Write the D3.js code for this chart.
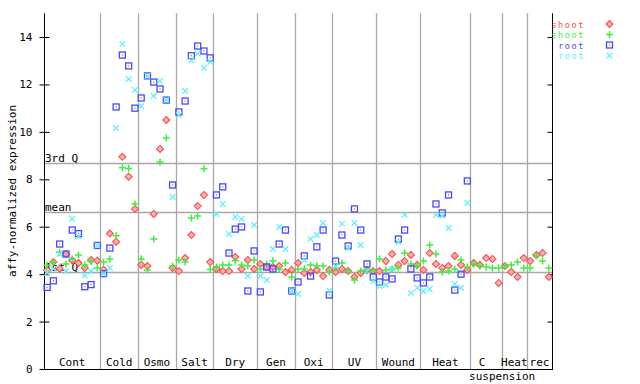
<!DOCTYPE html>
<html><head><meta charset="utf-8">
<script src="https://cdn.jsdelivr.net/npm/d3@7"></script>
<style>
body{margin:0;background:#fff;}
text{font-family:"DejaVu Sans Mono",monospace;font-size:11px;}
</style></head>
<body><svg id="c" width="640" height="384"></svg>
<script>
const groups = ["Cont","Cold","Osmo","Salt","Dry","Gen","Oxi","UV","Wound","Heat","C","Heat","rec"];
const groupSizes = [9,6,6,6,7,6,6,7,7,8,5,4,4];
const groupSub = ["","","","","","","","","","","suspension","",""];
const seriesNames = ["shoot","shoot","root","root"];
const yTicks = [0,2,4,6,8,10,12,14];
const statNames = ["3rd Q","mean","1st Q"];
const statValues = [8.69, 6.62, 4.09];

const shootA = [4.17,4.51,4.23,4.85,4.58,4.47,4.26,4.6,4.57,
 4.19,5.71,5.37,8.95,8.11,6.75,
 4.39,4.34,6.54,9.28,10.5,4.26,
 4.13,4.68,5.65,6.87,7.34,4.51,
 4.22,4.13,4.13,4.72,4.22,4.6,4.22,
 4.43,4.3,4.3,4.34,4.09,4.18,
 4.47,4.05,4.09,4.18,3.92,4.18,
 4.09,4.22,4.13,3.88,4.05,4.18,4.13,
 4.13,4.55,4.85,4.39,4.55,4.81,4.39,
 4.18,4.89,4.43,4.26,4.34,4.77,4.39,4.18,
 4.47,4.39,4.68,4.64,3.63,
 4.34,4.09,3.88,4.68,
 4.55,4.81,4.89,3.88];
const shootB = [4.37,4.5,4.92,4.43,4.64,4.81,4.39,4.53,4.26,
 4.51,4.64,5.62,8.49,8.45,6.96,
 4.64,4.18,5.48,8.73,9.74,4.34,
 4.6,4.51,6.37,6.45,8.44,4.2,
 4.3,4.39,4.39,4.56,4.39,4.34,4.6,
 4.22,4.43,4.56,4.2,4.47,3.88,
 4.22,4.22,4.39,4.34,4.34,4.09,
 4.26,4.47,4.13,3.75,4.13,4.18,4.13,
 4.64,4.18,4.22,4.26,4.89,4.43,4.34,
 4.55,5.23,4.85,4.09,4.13,4.22,4.6,4.3,
 4.43,4.34,4.3,4.26,4.26,
 4.34,4.39,4.51,4.26,
 4.26,4.77,4.55,4.26];
const rootA = [3.44,3.72,5.27,4.85,5.86,5.71,3.47,3.56,5.21,
 4.02,5.1,11.05,13.24,12.78,11.0,
 11.43,12.36,12.1,11.81,11.34,7.76,
 10.84,11.3,13.21,13.62,13.41,13.12,
 7.34,7.68,4.89,5.9,5.99,3.29,4.98,
 3.25,4.3,4.22,5.27,5.86,3.29,
 3.67,4.77,3.92,5.15,5.86,3.12,
 4.55,5.65,5.19,6.75,5.86,4.43,3.88,
 3.67,3.88,3.8,5.48,5.86,4.22,3.84,
 3.63,3.88,6.96,6.58,7.34,3.33,4.0,7.93,
 null,null,null,null,null,null,null,null,null,null,null,null,null];
const rootB = [4.05,4.23,4.85,4.12,6.34,5.6,3.94,4.12,5.21,
 4.02,4.26,10.16,13.71,12.23,11.77,
 11.09,12.36,11.51,12.15,11.34,7.25,
 10.7,11.72,13.03,13.3,12.69,12.95,
 6.54,6.96,5.69,6.41,6.33,3.92,6.07,
 3.92,3.75,5.06,5.99,5.06,3.29,
 3.16,4.6,5.48,5.65,6.16,3.29,
 4.34,6.12,5.1,6.16,5.23,4.13,3.71,
 3.5,3.54,4.22,5.35,6.5,3.2,3.42,
 3.29,3.37,6.5,6.45,5.95,3.59,3.42,7.0,
 null,null,null,null,null,null,null,null,null,null,null,null,null];

const series = [shootA, shootB, rootA, rootB];
const colors = ["#ff4c4c","#3cf03c","#4848ff","#55f0ff"];
const shapes = ["diamond","plus","square","cross"];

const svg = d3.select("#c");
const N = d3.sum(groupSizes);
const x = d3.scaleLinear().domain([0, N]).range([44, 552]);
const y = d3.scaleLinear().domain([0, 15]).range([369, 13.3]);

// group separators
const bounds = d3.cumsum(groupSizes);
svg.append("g").selectAll("line").data(Array.from(bounds).slice(0,-1)).join("line")
  .attr("x1", d=>Math.round(x(d))+0.5).attr("x2", d=>Math.round(x(d))+0.5)
  .attr("y1", y(15)).attr("y2", y(0))
  .attr("stroke","#a8a8a8").attr("stroke-width",1.3);

// stat lines
svg.append("g").selectAll("line").data(statValues).join("line")
  .attr("x1", x(0)).attr("x2", x(N))
  .attr("y1", d=>Math.round(y(d))+0.5).attr("y2", d=>Math.round(y(d))+0.5)
  .attr("stroke","#a8a8a8").attr("stroke-width",1.3);
svg.append("g").selectAll("text").data(statValues).join("text")
  .attr("x", 45).attr("y", d=>Math.round(y(d))-1.5)
  .text((d,i)=>statNames[i]).attr("fill","#000");

// axes
const gl = svg.append("g").attr("transform","translate(44.5,0)")
  .call(d3.axisLeft(y).tickValues(yTicks).tickSize(5).tickSizeOuter(0).tickPadding(7).tickFormat(d3.format("d")));
gl.select(".domain").remove();
gl.selectAll("text").style("font-family","DejaVu Sans Mono").style("font-size","11px").attr("fill","#000");
const gli = svg.append("g").attr("transform","translate(44.5,0)")
  .call(d3.axisRight(y).tickValues(yTicks).tickSize(5).tickSizeOuter(0).tickFormat(""));
gli.select(".domain").remove();
const gr = svg.append("g").attr("transform","translate(552.5,0)")
  .call(d3.axisLeft(y).tickValues(yTicks).tickSize(5).tickSizeOuter(0).tickFormat(""));
gr.select(".domain").remove();
svg.append("line").attr("x1",44.5).attr("x2",44.5).attr("y1",y(15)).attr("y2",369.5).attr("stroke","#000");
svg.append("line").attr("x1",552.5).attr("x2",552.5).attr("y1",y(15)).attr("y2",369.5).attr("stroke","#000");
svg.append("line").attr("x1",44).attr("x2",553).attr("y1",369.5).attr("y2",369.5).attr("stroke","#000");

// axis title
svg.append("text").attr("transform","translate(16,191) rotate(-90)")
  .attr("text-anchor","middle").text("affy-normalized expression");

// group labels
const starts = [0, ...Array.from(bounds).slice(0,-1)];
const centers = starts.map((s,i)=> x(s + groupSizes[i]/2));
svg.append("g").selectAll("text").data(groups).join("text")
  .attr("x",(d,i)=> groupSub[i] ? centers[i]-4 : centers[i]).attr("y",366)
  .attr("text-anchor","middle").text(d=>d);
svg.append("g").selectAll("text").data(groupSub).join("text")
  .attr("x",(d,i)=>centers[i]+16).attr("y",380)
  .attr("text-anchor","middle").text(d=>d);

function drawMark(g, shape, color, cx, cy){
  if(shape==="diamond"){
    g.append("path").attr("d",`M${cx},${cy-3.5}L${cx+3.5},${cy}L${cx},${cy+3.5}L${cx-3.5},${cy}Z`)
      .attr("fill","#ffb0b0").attr("stroke",color).attr("stroke-width",1.1);
  } else if(shape==="plus"){
    g.append("path").attr("d",`M${cx-3.5},${cy}H${cx+3.5}M${cx},${cy-3.5}V${cy+3.5}`)
      .attr("stroke",color).attr("stroke-width",1.5).attr("fill","none");
  } else if(shape==="square"){
    g.append("rect").attr("x",cx-3).attr("y",cy-3).attr("width",6).attr("height",6)
      .attr("fill","none").attr("stroke",color).attr("stroke-width",1.3);
    g.append("rect").attr("x",cx-0.5).attr("y",cy-0.5).attr("width",1).attr("height",1).attr("fill",color);
  } else {
    g.append("path").attr("d",`M${cx-2.8},${cy-2.8}L${cx+2.8},${cy+2.8}M${cx-2.8},${cy+2.8}L${cx+2.8},${cy-2.8}`)
      .attr("stroke",color).attr("stroke-width",1.2).attr("fill","none");
  }
}

const pg = svg.append("g");
series.forEach((vals, si)=>{
  vals.forEach((v,i)=>{
    if(v==null) return;
    drawMark(pg, shapes[si], colors[si], x(i+0.5), y(v));
  });
});

// legend
const lg = svg.append("g");
const legY = [24, 34.5, 45, 55.5];
seriesNames.forEach((n,i)=>{
  lg.append("text").attr("x",585).attr("y",legY[i]+3.5).attr("text-anchor","end")
    .style("font-size","8.5px").style("letter-spacing","1.6px")
    .attr("fill",colors[i]).text(n);
  drawMark(lg, shapes[i], colors[i], 609.5, legY[i]);
});
</script></body></html>
